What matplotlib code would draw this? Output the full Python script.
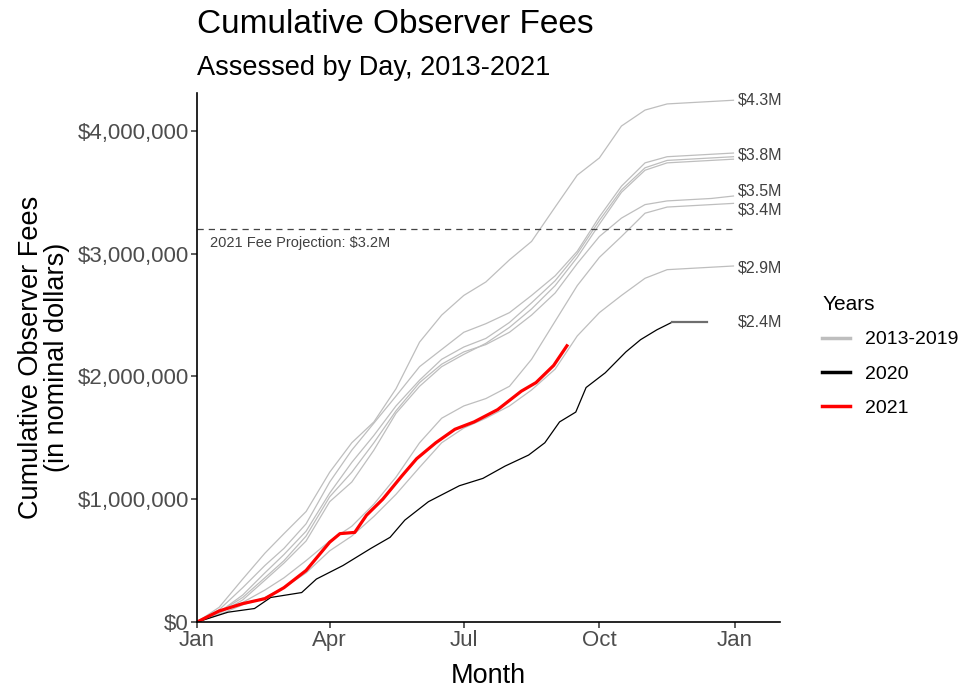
import matplotlib.pyplot as plt
from matplotlib.ticker import FuncFormatter
from matplotlib.lines import Line2D

plt.rcParams['font.family'] = ['Liberation Sans', 'DejaVu Sans']

# day of year for the 2013-2019 lines (cumulative fees in $M)
days = [0, 15, 31, 46, 59, 74, 90, 105, 120, 135, 151, 166, 181, 196, 212,
        227, 243, 258, 273, 288, 304, 319, 334, 349, 364]

y13_19 = [
    [0, 0.12, 0.35, 0.56, 0.72, 0.90, 1.22, 1.46, 1.63, 1.90, 2.28, 2.50, 2.66, 2.77, 2.95,
     3.10, 3.38, 3.64, 3.78, 4.04, 4.17, 4.22, 4.23, 4.24, 4.25],
    [0, 0.10, 0.28, 0.46, 0.60, 0.80, 1.14, 1.40, 1.62, 1.84, 2.08, 2.22, 2.36, 2.43, 2.52,
     2.66, 2.82, 3.02, 3.30, 3.55, 3.74, 3.79, 3.80, 3.81, 3.82],
    [0, 0.08, 0.22, 0.40, 0.55, 0.74, 1.05, 1.30, 1.52, 1.76, 1.97, 2.14, 2.24, 2.31, 2.44,
     2.60, 2.78, 3.00, 3.27, 3.52, 3.70, 3.76, 3.77, 3.78, 3.79],
    [0, 0.07, 0.18, 0.34, 0.48, 0.66, 0.98, 1.14, 1.40, 1.70, 1.92, 2.08, 2.18, 2.27, 2.40,
     2.55, 2.74, 2.97, 3.24, 3.50, 3.68, 3.74, 3.75, 3.76, 3.77],
    [0, 0.08, 0.20, 0.36, 0.50, 0.70, 1.02, 1.22, 1.46, 1.72, 1.95, 2.10, 2.20, 2.26, 2.36,
     2.50, 2.68, 2.92, 3.14, 3.29, 3.40, 3.43, 3.44, 3.45, 3.47],
    [0, 0.08, 0.16, 0.26, 0.36, 0.50, 0.66, 0.78, 0.96, 1.18, 1.46, 1.66, 1.76, 1.82, 1.92,
     2.14, 2.45, 2.74, 2.97, 3.14, 3.33, 3.38, 3.39, 3.40, 3.41],
    [0, 0.06, 0.14, 0.20, 0.28, 0.40, 0.58, 0.70, 0.86, 1.04, 1.26, 1.46, 1.58, 1.66, 1.76,
     1.89, 2.06, 2.33, 2.52, 2.66, 2.80, 2.87, 2.88, 2.89, 2.90],
]

days_2020 = [0, 21, 39, 50, 71, 81, 99, 118, 131, 141, 157, 178, 194, 209, 225, 236,
             246, 257, 264, 277, 291, 301, 312, 322]
y2020 = [0, 0.08, 0.11, 0.20, 0.24, 0.35, 0.46, 0.60, 0.69, 0.83, 0.98, 1.11, 1.17, 1.27,
         1.36, 1.46, 1.63, 1.71, 1.91, 2.03, 2.20, 2.30, 2.38, 2.44]
days_2020_tail = [322, 346]
y2020_tail = [2.44, 2.44]

days_2021 = [0, 15, 31, 46, 59, 74, 90, 97, 107, 115, 126, 139, 149, 162, 175, 188, 204,
             220, 230, 242, 251]
y2021 = [0, 0.09, 0.15, 0.19, 0.28, 0.42, 0.65, 0.72, 0.73, 0.87, 1.00, 1.19, 1.33, 1.46,
         1.57, 1.63, 1.73, 1.88, 1.95, 2.09, 2.25]

end_labels = ['$4.3M', '$3.8M', '$3.5M', '$3.4M', '$2.9M', '$2.4M']
end_label_y = [4.25, 3.80, 3.51, 3.36, 2.88, 2.44]

projection = 3.2
month_ticks = [0, 90, 181, 273, 365]
month_labels = ['Jan', 'Apr', 'Jul', 'Oct', 'Jan']

fig = plt.figure(figsize=(9.64, 6.88), dpi=100)
ax = fig.add_axes([0.2044, 0.0959, 0.6046, 0.7691])

for ys in y13_19:
    ax.plot(days, [v * 1e6 for v in ys], color='#bebebe', lw=0.9)
ax.plot(days_2020, [v * 1e6 for v in y2020], color='black', lw=0.9)
ax.plot(days_2020_tail, [v * 1e6 for v in y2020_tail], color='#6e6e6e', lw=1.6)
ax.plot(days_2021, [v * 1e6 for v in y2021], color='red', lw=2.3)

ax.plot([0, 365], [projection * 1e6] * 2, color='#444444', lw=0.9, ls=(0, (5, 4)))
ax.text(9, 3.09e6, '2021 Fee Projection: $3.2M', fontsize=10.5, color='#404040',
        va='center', ha='left')

for lab, yv in zip(end_labels, end_label_y):
    ax.text(367, yv * 1e6, lab, fontsize=11.5, color='#404040', va='center', ha='left')

ax.set_xlim(0, 395.5)
ax.set_ylim(0, 4.31e6)
ax.set_xticks(month_ticks)
ax.set_xticklabels(month_labels)
ax.yaxis.set_major_formatter(FuncFormatter(lambda v, p: f'${v:,.0f}'))
ax.set_yticks([0, 1e6, 2e6, 3e6, 4e6])

for s in ['top', 'right']:
    ax.spines[s].set_visible(False)
for s in ['left', 'bottom']:
    ax.spines[s].set_linewidth(1.2)
ax.tick_params(axis='both', labelsize=16, colors='#4d4d4d', length=4, width=1.1,
               pad=2)
ax.tick_params(axis='both', color='#333333')

ax.set_xlabel('Month', fontsize=19.5)
ax.xaxis.set_label_coords(0.5, -0.078)
ax.set_ylabel('Cumulative Observer Fees\n(in nominal dollars)', fontsize=19.5,
              linespacing=1.0)
ax.yaxis.set_label_coords(-0.218, 0.5)

fig.text(0.2044, 0.965, 'Cumulative Observer Fees', fontsize=24, va='center', ha='left')
fig.text(0.2044, 0.901, 'Assessed by Day, 2013-2021', fontsize=19.5, va='center', ha='left')

handles = [Line2D([], [], color='#bebebe', lw=2.5),
           Line2D([], [], color='black', lw=2.5),
           Line2D([], [], color='red', lw=2.5)]
leg = fig.legend(handles, ['2013-2019', '2020', '2021'], title='Years',
                 loc='upper left', bbox_to_anchor=(0.843, 0.585), frameon=False,
                 fontsize=14, title_fontsize=15, handlelength=1.4,
                 labelspacing=0.85, handletextpad=0.8, borderpad=0)
leg._legend_box.align = 'left'

fig.savefig('out.png', dpi=100)
